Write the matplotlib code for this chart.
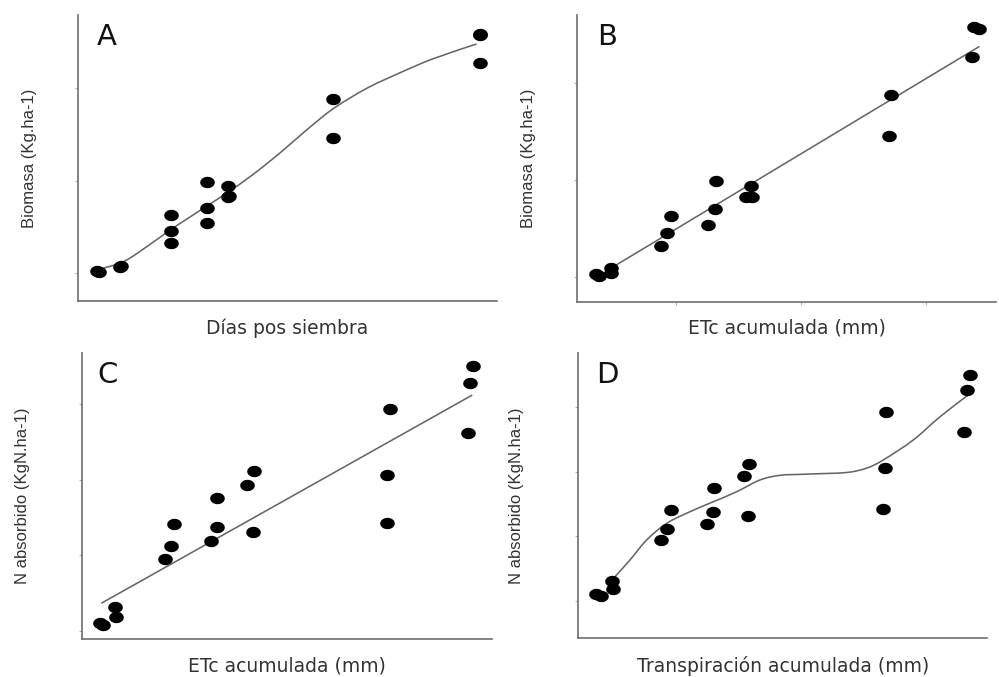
import numpy as np
import matplotlib
matplotlib.use("Agg")
import matplotlib.pyplot as plt
from matplotlib.path import Path
from matplotlib.patches import PathPatch

# ---------------- data ----------------
# Panel A: biomass vs days after sowing
dias_A = [16.2, 17.0, 24.0, 24.5, 41, 41, 41, 53, 53, 53, 60, 60, 60.5, 95, 95, 144, 144, 144]
biomasa_A = [140, 90, 330, 390, 3141, 2279, 1616, 4935, 3534, 2694, 4704, 4127, 4150,
             9391, 7306, 12877, 11315, 12820]
curva_A_x = [16.2, 25.1, 32.9, 40.7, 47.3, 52.9, 60.1, 68.4, 77.3, 86.2, 95.1,
             106.2, 117.3, 128.4, 142.9]
curva_A_y = [178, 625, 1433, 2328, 3030, 3620, 4380, 5330, 6480, 7720, 8870,
             9960, 10800, 11560, 12355]

# Panel B: biomass vs accumulated ETc
etc_B = [36, 38.6, 48, 48, 88, 93, 96, 126, 131.4, 132, 156, 161, 160.5,
         270.6, 272, 337, 338.6, 342.6]
biomasa_B = [140, 36, 434, 207, 1587, 2244, 3139, 2658, 3516, 4933, 4105, 4137, 4705,
             7275, 9395, 11344, 12896, 12808]
ajuste_B_x = [48, 342.6]
ajuste_B_y = [434, 11892]

# Panel C: N uptake vs accumulated ETc
etc_C = [36, 38.7, 49.1, 48.3, 89.2, 94.1, 96.6, 126.6, 131.5, 132, 156, 162, 161.4,
         270.6, 271.1, 273.3, 337.4, 338.8, 341.5]
n_abs = [5.1, 3.6, 8.9, 15.5, 47.4, 55.8, 70.6, 59.1, 68.6, 87.6, 96.6, 105.6, 65.3,
         71.0, 103.2, 146.6, 131.0, 163.6, 175.3]
ajuste_C_x = [37.4, 340.2]
ajuste_C_y = [18.3, 155.7]

# Panel D: N uptake vs accumulated transpiration
transp_D = [22.2, 25.7, 34.3, 33.8, 68.1, 72.3, 74.7, 100.3, 104.3, 105, 126, 129.5, 129,
            223.5, 224.5, 225.2, 280, 282.3, 284]
curva_D_x = [35.7, 46.2, 57.9, 71.9, 88.2, 104.5, 120.9, 137.2, 151.2, 165.2, 174.5,
             197.9, 211.9, 223.5, 244.5, 263.2, 283]
curva_D_y = [18.6, 31.6, 47.1, 60.0, 69.0, 76.7, 84.5, 93.6, 97.2, 97.9, 98.3,
             99.4, 102.8, 109.1, 124.6, 142.6, 159.5]

letras = ["A", "B", "C", "D"]
xlabels = ["Días pos siembra", "ETc acumulada (mm)", "ETc acumulada (mm)",
           "Transpiración acumulada (mm)"]
ylabels = ["Biomasa (Kg.ha-1)", "Biomasa (Kg.ha-1)", "N absorbido (KgN.ha-1)",
           "N absorbido (KgN.ha-1)"]

# ---------------- figure ----------------
W, H = 999, 677
fig = plt.figure(figsize=(W / 100, H / 100), dpi=100)

# slightly flattened dot (reference is horizontally stretched)
t = np.linspace(0, 2 * np.pi, 60)
dot = Path(np.column_stack([np.cos(t), 0.78 * np.sin(t)]))


def rect(l, r, top, bot):
    return [l / W, 1 - bot / H, (r - l) / W, (bot - top) / H]


def smooth_path(xs, ys):
    """Bezier (Catmull-Rom) path passing through the traced curve points."""
    P = np.column_stack([xs, ys]).astype(float)
    n = len(P)
    verts = [P[0]]
    codes = [Path.MOVETO]
    for k in range(n - 1):
        p0 = P[k - 1] if k > 0 else P[k]
        p1, p2 = P[k], P[k + 1]
        p3 = P[k + 2] if k + 2 < n else P[k + 1]
        c1 = p1 + (p2 - p0) / 6.0
        c2 = p2 - (p3 - p1) / 6.0
        verts += [c1, c2, p2]
        codes += [Path.CURVE4] * 3
    return Path(verts, codes)


panels = [
    dict(rect=rect(78, 497, 15, 301), x=dias_A, y=biomasa_A, lx=curva_A_x, ly=curva_A_y,
         curve=True, xlim=(10, 149.7), ylim=(-1492, 13917), yt=[0, 5000, 10000], xt=[],
         letter=(97, 45), ylab=(30, 158), xlab=328),
    dict(rect=rect(577, 996, 15, 301.7), x=etc_B, y=biomasa_B, lx=ajuste_B_x, ly=ajuste_B_y,
         curve=False, xlim=(21.0, 356.2), ylim=(-1293, 13531), yt=[0, 5000, 10000],
         xt=[100, 200, 300], letter=(597, 45), ylab=(528, 158), xlab=328),
    dict(rect=rect(81.7, 491.7, 353, 639), x=etc_C, y=n_abs, lx=ajuste_C_x, ly=ajuste_C_y,
         curve=False, xlim=(21.0, 356.5), ylim=(-5.5, 183.7), yt=[0, 50, 100, 150], xt=[],
         letter=(97, 383), ylab=(23, 496), xlab=666),
    dict(rect=rect(578.3, 987.3, 353, 638), x=transp_D, y=n_abs, lx=curva_D_x, ly=curva_D_y,
         curve=True, xlim=(10, 296.3), ylim=(-28.9, 192.0), yt=[0, 50, 100, 150], xt=[],
         letter=(596, 383), ylab=(517, 496), xlab=666),
]

for i, p in enumerate(panels):
    ax = fig.add_axes(p["rect"])
    if p["curve"]:
        ax.add_patch(PathPatch(smooth_path(p["lx"], p["ly"]), facecolor="none",
                               edgecolor="#666666", lw=1.15, zorder=2))
    else:
        ax.plot(p["lx"], p["ly"], color="#666666", lw=1.15, solid_capstyle="round", zorder=2)
    ax.plot(p["x"], p["y"], linestyle="none", marker=dot, markersize=10.5,
            color="black", markeredgewidth=0, zorder=3)
    ax.set_xlim(*p["xlim"])
    ax.set_ylim(*p["ylim"])
    ax.set_yticks(p["yt"])
    ax.set_xticks(p["xt"])
    ax.set_yticklabels([])
    ax.set_xticklabels([])
    ax.tick_params(axis="both", direction="out", length=2.5, width=0.8, colors="#b0b0b0")
    for s in ["top", "right"]:
        ax.spines[s].set_visible(False)
    for s in ["left", "bottom"]:
        ax.spines[s].set_color("#6e6e6e")
        ax.spines[s].set_linewidth(1.2)
    ax.patch.set_alpha(0)

    lx, ly = p["letter"]
    fig.text(lx / W, 1 - ly / H, letras[i], fontsize=21, family="DejaVu Sans",
             color="#111111", ha="left", va="baseline")
    l, b, w, h = p["rect"]
    fig.text(l + w / 2, 1 - p["xlab"] / H, xlabels[i], fontsize=13.5,
             family="DejaVu Sans", color="#333333", ha="center", va="center")
    yx, yy = p["ylab"]
    fig.text(yx / W, 1 - yy / H, ylabels[i], fontsize=12, family="Liberation Sans",
             color="#333333", ha="center", va="center", rotation=90)

fig.savefig("out.png", dpi=100, facecolor="white")
